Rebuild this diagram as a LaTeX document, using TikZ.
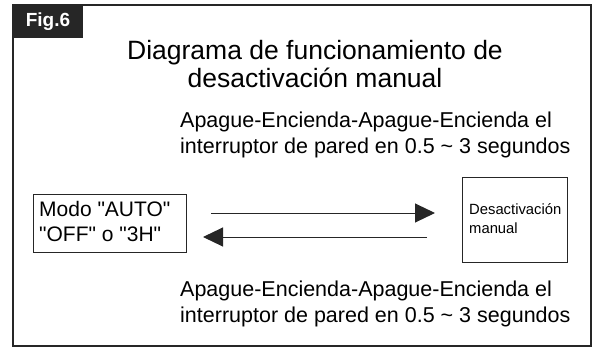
\documentclass[tikz,border=0pt]{standalone}
\usepackage{fontspec}
\setmainfont{Liberation Sans}
\usetikzlibrary{arrows.meta}
\begin{document}
\begin{tikzpicture}[x=1pt,y=-1pt,
  frame/.style={draw=black!85,line width=2pt},
  boxstyle/.style={draw=black!85,line width=0.9pt},
  lbl/.style={anchor=north west,align=left,inner sep=0pt,font=\fontsize{21.5}{26}\selectfont},
  conn/.style={draw=black!85,line width=1pt,-{Triangle[length=20pt,width=19pt]}}]
\useasboundingbox (0,0) rectangle (598,354);
\draw[frame] (13,5) rectangle (591,346);
\fill[black!85] (13,5) rectangle (83,38);
\node[text=white,font=\fontsize{19}{22}\bfseries\selectfont,anchor=center] (fig) at (48,21.5) {Fig.6};
\node[align=center,inner sep=0pt,font=\fontsize{26.5}{28}\selectfont,anchor=north] (title) at (315,40) {Diagrama de funcionamiento de\\desactivación manual};
\node[lbl] (up) at (180,112) {Apague-Encienda-Apague-Encienda el\\interruptor de pared en 0.5 \textasciitilde{} 3 segundos};
\node[lbl] (down) at (180,281) {Apague-Encienda-Apague-Encienda el\\interruptor de pared en 0.5 \textasciitilde{} 3 segundos};
\draw[boxstyle] (33,194) rectangle (186,252);
\node[anchor=north west,align=left,inner sep=0pt,font=\fontsize{21}{25.5}\selectfont] (mode) at (39,201) {Modo \textquotedbl AUTO\textquotedbl\\\textquotedbl OFF\textquotedbl{} o \textquotedbl 3H\textquotedbl};
\draw[boxstyle] (462,177) rectangle (567,262);
\node[anchor=north west,align=left,inner sep=0pt,font=\fontsize{14.8}{19}\selectfont] (man) at (469,203) {Desactivación\\manual};
\coordinate (a1s) at (211,213);
\coordinate (a1e) at (435,213);
\coordinate (a2s) at (427,237);
\coordinate (a2e) at (203,237);
\draw[conn] (a1s) -- (a1e);
\draw[conn] (a2s) -- (a2e);
\end{tikzpicture}
\end{document}
